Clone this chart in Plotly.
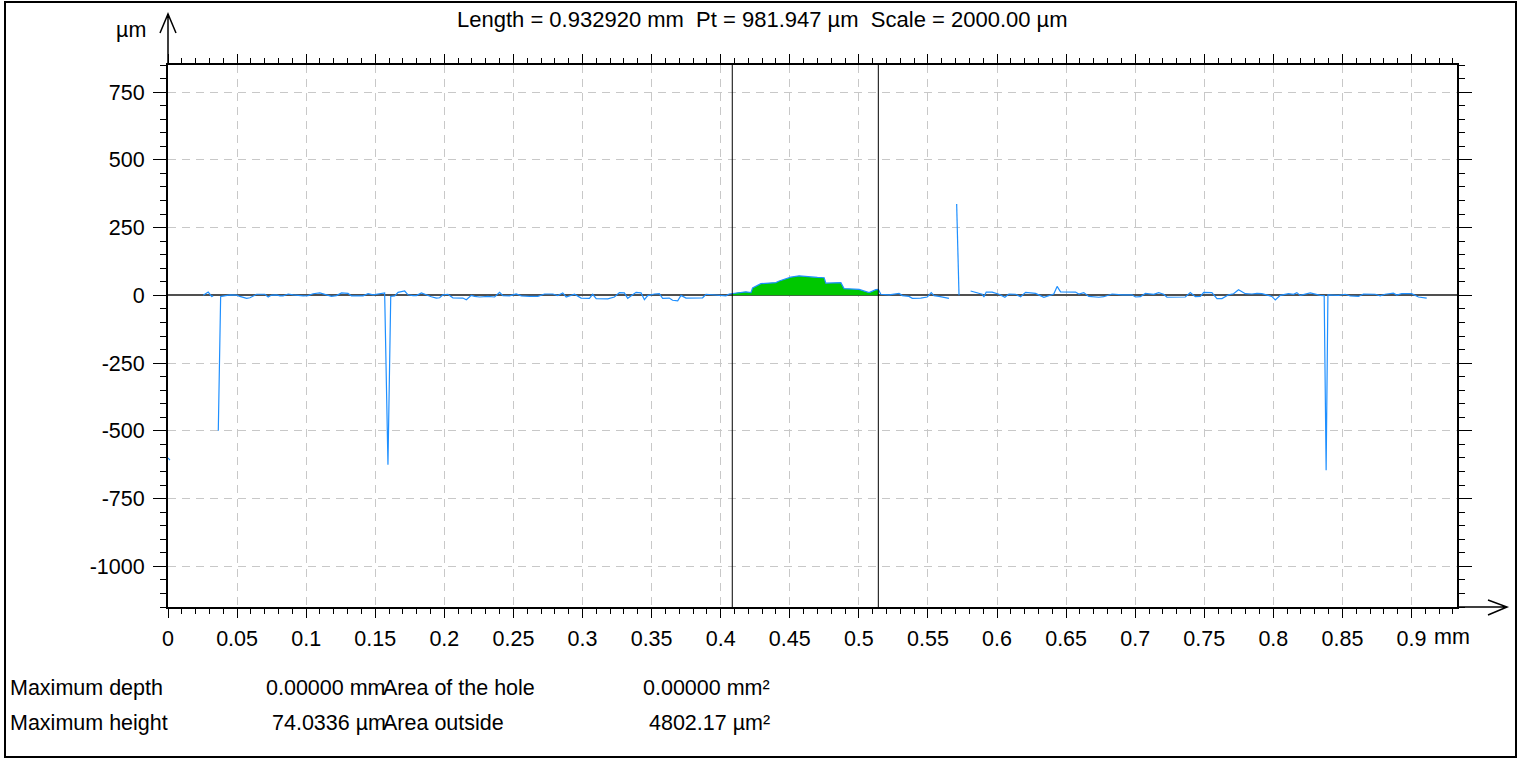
import plotly.graph_objects as go

# ---------------- data ----------------
x_mm = [0.0000, 0.0014, None,
        0.0255, 0.0291, 0.0316, 0.0327, None,
        0.0364, 0.0381, 0.0388, 0.0448, 0.0497, 0.0520, 0.0569, 0.0593, 0.0641, 0.0701,
        0.0725, 0.0750, 0.0786, 0.0810, 0.0833, 0.0870, 0.0906, 0.0942, 0.0978, 0.1014,
        0.1050, 0.1099, 0.1147, 0.1183, 0.1219, 0.1256, 0.1303, 0.1328, 0.1412, 0.1448,
        0.1484, 0.1520, 0.1568, 0.1592, 0.1612, 0.1641, 0.1665, 0.1713, 0.1737, 0.1773,
        0.1798, 0.1834, 0.1870, 0.1906, 0.1942, 0.1966, 0.1990, 0.2026, 0.2038, 0.2062,
        0.2134, 0.2159, 0.2195, 0.2219, 0.2255, 0.2315, 0.2364, 0.2400, 0.2424, 0.2472,
        0.2520, 0.2557, 0.2617, 0.2677, 0.2725, 0.2785, 0.2821, 0.2857, 0.2882, 0.2918,
        0.2942, 0.2990, 0.3050, 0.3074, 0.3099, 0.3183, 0.3231, 0.3267, 0.3303, 0.3327,
        0.3388, 0.3424, 0.3448, 0.3472, 0.3520, 0.3556, 0.3580, 0.3628, 0.3652, 0.3689,
        0.3713, 0.3749, 0.3869, 0.3894, 0.3941, 0.3978, 0.4038, 0.4062, 0.4084, 0.4134,
        0.4183, 0.4219, 0.4231, 0.4291, 0.4400, 0.4424, 0.4508, 0.4568, 0.4640, 0.4700,
        0.4749, 0.4761, 0.4870, 0.4893, 0.5002, 0.5074, 0.5123, 0.5141, 0.5159, 0.5219,
        0.5291, 0.5315, 0.5363, 0.5387, 0.5448, 0.5495, 0.5524, 0.5544, 0.5580, 0.5652,
        None,
        0.5708, 0.5725, None,
        0.5809, 0.5893, 0.5905, 0.5922, 0.5965, 0.6014, 0.6057, 0.6086, 0.6134, 0.6171,
        0.6207, 0.6279, 0.6339, 0.6375, 0.6411, 0.6435, 0.6460, 0.6568, 0.6592, 0.6628,
        0.6664, 0.6737, 0.6773, 0.6833, 0.6905, 0.6977, 0.7002, 0.7038, 0.7074, 0.7134,
        0.7170, 0.7206, 0.7230, 0.7363, 0.7399, 0.7435, 0.7472, 0.7496, 0.7555, 0.7592,
        0.7628, 0.7676, 0.7712, 0.7748, 0.7797, 0.7845, 0.7881, 0.7917, 0.7953, 0.7989,
        0.8014, 0.8050, 0.8110, 0.8146, 0.8170, 0.8194, 0.8267, 0.8303, 0.8339, 0.8368,
        0.8382, 0.8395, 0.8435, 0.8471, 0.8520, 0.8556, 0.8616, 0.8652, 0.8737, 0.8773,
        0.8809, 0.8869, 0.8893, 0.8929, 0.9001, 0.9050, 0.9110]

z_um = [-600, -608, None,
        0, 12, -4, -2, None,
        -500, -5, -4, 2, 1, -4, -11, -9, 4, 4,
        -6, 1, 2, -2, -2, 5, 2, -1, -2, -1,
        6, 9, 1, -4, -1, 9, 7, -2, -2, 6,
        2, 6, 9, -625, -4, -2, 11, 16, 2, -1,
        -1, 9, 1, -5, -10, -9, 2, 4, -1, -9,
        -10, -16, 0, -4, -6, -4, -6, 11, -1, -2,
        5, -2, -4, -4, 5, 5, -1, 9, -6, 0,
        4, -10, -11, 4, -12, -13, -6, 10, 9, -11,
        11, 9, -16, -1, 5, 6, -11, -10, -18, -20,
        0, -10, -9, 4, 2, -1, -2, 5, 6, 11,
        13, 10, 27, 43, 47, 53, 67, 72, 68, 66,
        65, 45, 47, 25, 22, 10, 21, 22, 4, 2,
        7, -1, -4, -11, -10, -6, 10, -1, -4, -11,
        None,
        337, 0, None,
        16, 4, -6, 12, 12, 4, -7, 5, 4, -5,
        11, 7, -7, -2, 5, 33, 13, 12, 5, 10,
        -4, -7, -5, 5, 2, 2, -6, -5, 7, 4,
        10, 4, -7, -6, 10, -5, -4, 11, 10, -12,
        -12, 2, 6, 21, 6, 5, 7, 6, 1, -4,
        -17, 0, 6, 4, 10, 0, 9, 4, 0, -1,
        -645, 2, 1, 0, 4, -2, -4, 5, 4, -2,
        4, 8, 1, 6, 6, -6, -10]

cursor_left_mm = 0.4084
cursor_right_mm = 0.5141
length_mm = 0.932920
y_range = [-1150, 850]

x_tick_vals = [0, 0.05, 0.1, 0.15, 0.2, 0.25, 0.3, 0.35, 0.4, 0.45,
               0.5, 0.55, 0.6, 0.65, 0.7, 0.75, 0.8, 0.85, 0.9]
x_tick_text = ["0", "0.05", "0.1", "0.15", "0.2", "0.25", "0.3", "0.35", "0.4", "0.45",
               "0.5", "0.55", "0.6", "0.65", "0.7", "0.75", "0.8", "0.85", "0.9"]
y_tick_vals = [750, 500, 250, 0, -250, -500, -750, -1000]
y_tick_text = ["750", "500", "250", "0", "-250", "-500", "-750", "-1000"]

title_text = "Length = 0.932920 mm  Pt = 981.947 µm  Scale = 2000.00 µm"
stats_labels_1 = ["Maximum depth", "Maximum height"]
stats_values_1 = ["0.00000 mm", "74.0336 µm"]
stats_labels_2 = ["Area of the hole", "Area outside"]
stats_values_2 = ["0.00000 mm²", "4802.17 µm²"]

# ---------------- geometry ----------------
W, H = 1520, 760
L, R, T, B = 168, 1457, 65, 607   # plot area in pixels
FONT = "Liberation Sans, Arial, sans-serif"
FS = 21.5


def px(xp):
    return (xp - L) / (R - L)


def py(yp):
    return (B - yp) / (B - T)


# green filled region: profile points between the two cursors
fill_x, fill_z = [], []
for xv, zv in zip(x_mm, z_um):
    if xv is not None and cursor_left_mm <= xv <= cursor_right_mm:
        fill_x.append(xv)
        fill_z.append(zv)

fig = go.Figure()
fig.add_trace(go.Scatter(x=fill_x, y=fill_z, mode="lines", fill="tozeroy",
                         fillcolor="#00C800", line=dict(color="#00C800", width=0),
                         hoverinfo="skip", showlegend=False))
fig.add_trace(go.Scatter(x=x_mm, y=z_um, mode="lines",
                         line=dict(color="#1E8FFF", width=1.2),
                         connectgaps=False, showlegend=False))

axis_common = dict(showline=True, linecolor="black", linewidth=2, mirror="ticks",
                   ticks="outside", tickcolor="black", tickwidth=1,
                   showgrid=True, gridcolor="#C8C8C8", gridwidth=1, griddash="8px,6px",
                   tickfont=dict(family=FONT, size=FS, color="black"))

fig.update_xaxes(range=[0, length_mm], tickvals=x_tick_vals, ticktext=x_tick_text,
                 ticklen=9, zeroline=False, ticklabelstandoff=2,
                 minor=dict(dtick=0.01, tick0=0, ticks="outside", ticklen=5,
                            tickcolor="black", showgrid=False),
                 **axis_common)
fig.update_yaxes(range=y_range, tickvals=y_tick_vals, ticktext=y_tick_text, ticklen=13,
                 zeroline=True, zerolinecolor="#505050", zerolinewidth=1.5,
                 ticklabelstandoff=4,
                 minor=dict(dtick=50, tick0=0, ticks="outside", ticklen=6,
                            tickcolor="black", showgrid=False),
                 **axis_common)

shapes = []
# cursors
for c in (cursor_left_mm, cursor_right_mm):
    shapes.append(dict(type="line", xref="x", yref="paper", x0=c, x1=c, y0=0, y1=1,
                       line=dict(color="black", width=1)))
# outer border
shapes.append(dict(type="rect", xref="paper", yref="paper",
                   x0=px(5), x1=px(1516), y0=py(2), y1=py(757),
                   line=dict(color="black", width=2), layer="below"))
# y-axis arrow
shapes.append(dict(type="path", xref="paper", yref="paper",
                   path=f"M{px(L)},{py(T)} L{px(L)},{py(14)} "
                        f"M{px(L-8)},{py(33)} L{px(L)},{py(14)} L{px(L+8)},{py(33)}",
                   line=dict(color="black", width=1.5)))
# x-axis arrow
shapes.append(dict(type="path", xref="paper", yref="paper",
                   path=f"M{px(R)},{py(B)} L{px(1507)},{py(B)} "
                        f"M{px(1488)},{py(B-7)} L{px(1507)},{py(B)} L{px(1488)},{py(B+8)}",
                   line=dict(color="black", width=1.5)))

annotations = []
tf = dict(family=FONT, size=FS, color="black")
annotations.append(dict(text=title_text, xref="paper", yref="paper", x=px(762), y=py(20),
                        xanchor="center", yanchor="middle", showarrow=False,
                        font=dict(family=FONT, size=22, color="black")))
annotations.append(dict(text="µm", xref="paper", yref="paper", x=px(148), y=py(30),
                        xanchor="right", yanchor="middle", showarrow=False, font=tf))
annotations.append(dict(text="mm", xref="paper", yref="paper", x=px(1432), y=py(637),
                        xanchor="left", yanchor="middle", showarrow=False, font=tf))
for i, yrow in enumerate((688, 723)):
    annotations.append(dict(text=stats_labels_1[i], xref="paper", yref="paper", x=px(8),
                            y=py(yrow), xanchor="left", yanchor="middle", showarrow=False, font=tf))
    annotations.append(dict(text=stats_values_1[i], xref="paper", yref="paper", x=px(388),
                            y=py(yrow), xanchor="right", yanchor="middle", showarrow=False, font=tf))
    annotations.append(dict(text=stats_labels_2[i], xref="paper", yref="paper", x=px(381),
                            y=py(yrow), xanchor="left", yanchor="middle", showarrow=False, font=tf))
    annotations.append(dict(text=stats_values_2[i], xref="paper", yref="paper", x=px(772),
                            y=py(yrow), xanchor="right", yanchor="middle", showarrow=False, font=tf))

fig.update_layout(width=W, height=H, margin=dict(l=L, r=W - R, t=T, b=H - B),
                  paper_bgcolor="white", plot_bgcolor="white",
                  shapes=shapes, annotations=annotations, showlegend=False,
                  font=dict(family=FONT, size=FS, color="black"))

fig.write_html("out.html", config={"displayModeBar": False},
               post_script="document.body.style.margin='0';document.body.style.padding='0';"
                           "document.body.style.overflow='hidden';")
